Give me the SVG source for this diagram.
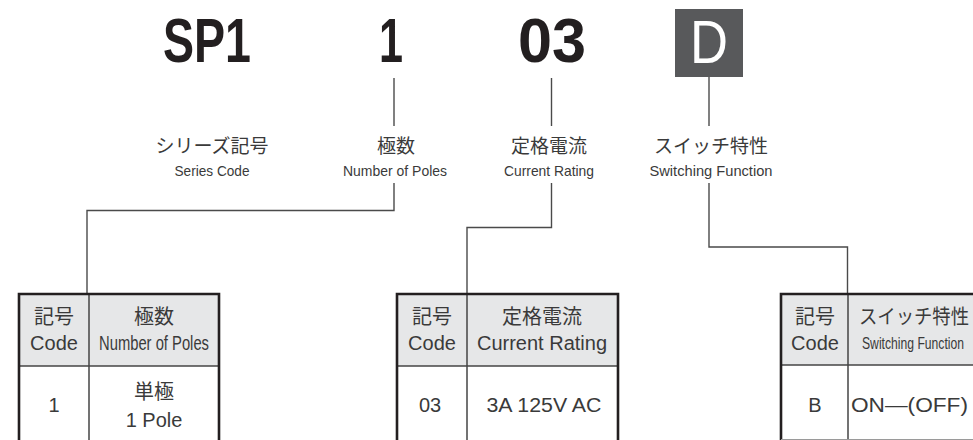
<svg xmlns="http://www.w3.org/2000/svg" width="973" height="440" viewBox="0 0 973 440">
<style>
.big{font-family:"Liberation Sans",Arial,sans-serif;font-weight:bold;font-size:63px;fill:#231f20}
.jp{font-family:"Liberation Sans","Noto Sans CJK JP",sans-serif;font-size:19px;fill:#3a3a3a;text-anchor:middle}
.en{font-family:"Liberation Sans","Noto Sans CJK JP",sans-serif;font-size:15px;fill:#3a3a3a;text-anchor:middle}
.th{font-family:"Liberation Sans","Noto Sans CJK JP",sans-serif;font-size:20px;fill:#3a3a3a;text-anchor:middle}
.ln{fill:none;stroke:#4a4a4a;stroke-width:1.4}
.outer{fill:none;stroke:#231f20;stroke-width:2.6}
.inner{stroke:#444;stroke-width:1.5}
.hdr{fill:#e6e7e8}
</style>
<g id="code-sp1"><text class="big" x="163" y="62" textLength="88" lengthAdjust="spacingAndGlyphs">SP1</text></g>
<g id="code-1"><text class="big" x="379" y="62" textLength="24" lengthAdjust="spacingAndGlyphs">1</text></g>
<g id="code-03"><text class="big" x="518" y="62" textLength="68" lengthAdjust="spacingAndGlyphs">03</text></g>
<g id="code-d"><rect x="675" y="9" width="68" height="68" fill="#58595b"/><text x="709" y="63" font-family="Liberation Sans,Arial,sans-serif" font-size="62" fill="#ffffff" text-anchor="middle" textLength="38" lengthAdjust="spacingAndGlyphs">D</text></g>

<g id="label-series"><text class="jp" x="212" y="153">シリーズ記号</text><text class="en" x="212" y="176" textLength="75" lengthAdjust="spacingAndGlyphs">Series Code</text></g>
<g id="label-poles"><text class="jp" x="396" y="153">極数</text><text class="en" x="395" y="176" textLength="104" lengthAdjust="spacingAndGlyphs">Number of Poles</text></g>
<g id="label-current"><text class="jp" x="549" y="153">定格電流</text><text class="en" x="549" y="176" textLength="90" lengthAdjust="spacingAndGlyphs">Current Rating</text></g>
<g id="label-switch"><text class="jp" x="711" y="153">スイッチ特性</text><text class="en" x="711" y="176" textLength="123" lengthAdjust="spacingAndGlyphs">Switching  Function</text></g>

<g id="connectors">
<line class="ln" x1="394" y1="78" x2="394" y2="126"/>
<line class="ln" x1="551.5" y1="78" x2="551.5" y2="126"/>
<line class="ln" x1="709" y1="77" x2="709" y2="126"/>
<polyline class="ln" points="394,183 394,210.5 87,210.5 87,294"/>
<polyline class="ln" points="551.5,183 551.5,227.5 467,227.5 467,294"/>
<polyline class="ln" points="709,183 709,247 847.5,247 847.5,294"/>
</g>

<g id="table-poles">
<rect class="hdr" x="19" y="294" width="200" height="72"/>
<line class="inner" x1="19" y1="366" x2="219" y2="366"/>
<line class="inner" x1="89" y1="294" x2="89" y2="442"/>
<polyline class="outer" points="19,442 19,294 219,294 219,442"/>
<text class="th" x="54" y="324">記号</text>
<text class="th" x="54" y="350">Code</text>
<text class="th" x="154" y="324">極数</text>
<text class="th" x="154" y="350" textLength="110" lengthAdjust="spacingAndGlyphs">Number of Poles</text>
<text class="th" x="54" y="412">1</text>
<text class="th" x="154" y="399">単極</text>
<text class="th" x="154" y="427">1 Pole</text>
</g>

<g id="table-current">
<rect class="hdr" x="397" y="294" width="221" height="72"/>
<line class="inner" x1="397" y1="366" x2="618" y2="366"/>
<line class="inner" x1="467" y1="294" x2="467" y2="442"/>
<polyline class="outer" points="397,442 397,294 618,294 618,442"/>
<text class="th" x="432" y="324">記号</text>
<text class="th" x="432" y="350">Code</text>
<text class="th" x="542" y="324">定格電流</text>
<text class="th" x="542" y="350" textLength="130" lengthAdjust="spacingAndGlyphs">Current Rating</text>
<text class="th" x="430" y="412">03</text>
<text class="th" x="544" y="412" textLength="115" lengthAdjust="spacingAndGlyphs">3A 125V AC</text>
</g>

<g id="table-switch">
<rect class="hdr" x="781" y="294" width="194" height="71"/>
<line class="inner" x1="781" y1="365" x2="975" y2="365"/>
<line class="inner" x1="848" y1="294" x2="848" y2="442"/>
<polyline class="outer" points="781,442 781,294 975,294"/>
<line x1="781" y1="439.5" x2="975" y2="439.5" stroke="#9a9a9a" stroke-width="1"/>
<text class="th" x="815" y="324">記号</text>
<text class="th" x="815" y="350">Code</text>
<text class="th" x="859" y="324" style="text-anchor:start" textLength="110" lengthAdjust="spacingAndGlyphs">スイッチ特性</text>
<text class="th" x="862" y="349" style="text-anchor:start;font-size:17px" textLength="102" lengthAdjust="spacingAndGlyphs">Switching Function</text>
<text class="th" x="815" y="412">B</text>
<text class="th" x="851" y="412" style="text-anchor:start" textLength="117" lengthAdjust="spacingAndGlyphs">ON—(OFF)</text>
</g>
</svg>
